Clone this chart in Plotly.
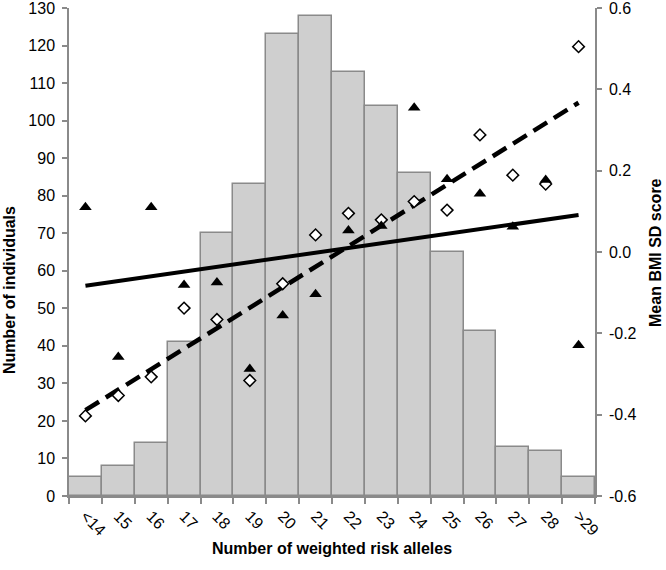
import plotly.graph_objects as go

categories = ["<14", "15", "16", "17", "18", "19", "20", "21", "22", "23", "24", "25", "26", "27", "28", ">29"]
counts = [5, 8, 14, 41, 70, 83, 123, 128, 113, 104, 86, 65, 44, 13, 12, 5]
bmi_triangles = [0.110, -0.258, 0.110, -0.081, -0.075, -0.288, -0.156, -0.104, 0.053, 0.064, 0.355, 0.179, 0.143, 0.062, 0.177, -0.229]
bmi_diamonds = [-0.403, -0.353, -0.307, -0.138, -0.166, -0.316, -0.078, 0.042, 0.095, 0.079, 0.124, 0.103, 0.288, 0.189, 0.167, 0.505]
trend_x = ["<14", ">29"]
trend_solid = [-0.083, 0.091]
trend_dashed = [-0.389, 0.367]

left_ticks = list(range(0, 131, 10))
right_ticks = [-0.6, -0.4, -0.2, 0.0, 0.2, 0.4, 0.6]
right_ticktext = ["-0.6", "-0.4", "-0.2", "0.0", "0.2", "0.4", "0.6"]

FONT = "Liberation Sans, Arial, sans-serif"
AX = "#8a8a8a"

fig = go.Figure()
fig.add_trace(go.Bar(
    x=categories, y=counts, width=1.0,
    marker=dict(color="#cfcfcf", line=dict(color="#8a8a8a", width=1.5)),
    yaxis="y", showlegend=False, hoverinfo="skip"))
fig.add_trace(go.Scatter(
    x=trend_x, y=trend_solid, mode="lines", yaxis="y2",
    line=dict(color="black", width=4), showlegend=False))
fig.add_trace(go.Scatter(
    x=trend_x, y=trend_dashed, mode="lines", yaxis="y2",
    line=dict(color="black", width=4.5, dash="16px,8px"), showlegend=False))
fig.add_trace(go.Scatter(
    x=categories, y=bmi_diamonds, mode="markers", yaxis="y2",
    marker=dict(symbol="diamond", size=9, color="white", line=dict(color="black", width=1.5)),
    showlegend=False))
fig.add_trace(go.Scatter(
    x=categories, y=bmi_triangles, mode="markers", yaxis="y2",
    marker=dict(symbol="triangle-up", size=11, color="black", line=dict(width=0)),
    showlegend=False))

fig.update_layout(
    width=666, height=570,
    margin=dict(l=69, r=71, t=8, b=74, autoexpand=False),
    paper_bgcolor="white", plot_bgcolor="white",
    font=dict(family=FONT, size=16, color="black"),
    bargap=0,
    showlegend=False,
    xaxis=dict(
        type="category", categoryorder="array", categoryarray=categories,
        range=[-0.5, 15.5], automargin=False,
        showline=True, linecolor=AX, linewidth=1.5,
        ticks="outside", tickson="boundaries", ticklen=6, tickcolor=AX, tickwidth=1.5,
        tickangle=45, tickfont=dict(size=16), ticklabelstandoff=3,
        showgrid=False, zeroline=False),
    yaxis=dict(
        range=[0, 130], tickvals=left_ticks, automargin=False, ticklabeloverflow="allow",
        showline=True, linecolor=AX, linewidth=1.5,
        ticks="outside", ticklen=5, tickcolor=AX, tickwidth=1.5,
        tickfont=dict(size=16), ticklabelstandoff=4,
        showgrid=False, zeroline=False),
    yaxis2=dict(
        range=[-0.6, 0.6], tickvals=right_ticks, ticktext=right_ticktext,
        overlaying="y", side="right", automargin=False, ticklabeloverflow="allow",
        showline=True, linecolor=AX, linewidth=1.5,
        ticks="outside", ticklen=5, tickcolor=AX, tickwidth=1.5,
        tickfont=dict(size=16), ticklabelstandoff=4,
        showgrid=False, zeroline=False),
    annotations=[
        dict(text="<b>Number of weighted risk alleles</b>", xref="paper", yref="paper",
             x=0.5, y=-0.1066, xanchor="center", yanchor="middle", showarrow=False,
             font=dict(size=16)),
        dict(text="<b>Number of individuals</b>", xref="paper", yref="paper",
             x=-0.114, y=0.422, xanchor="center", yanchor="middle", showarrow=False,
             textangle=-90, font=dict(size=16)),
        dict(text="<b>Mean BMI SD score</b>", xref="paper", yref="paper",
             x=1.114, y=0.5, xanchor="center", yanchor="middle", showarrow=False,
             textangle=-90, font=dict(size=16)),
    ],
)

fig.write_html("out.html", config={"displayModeBar": False},
               post_script="document.body.style.margin='0px';")
